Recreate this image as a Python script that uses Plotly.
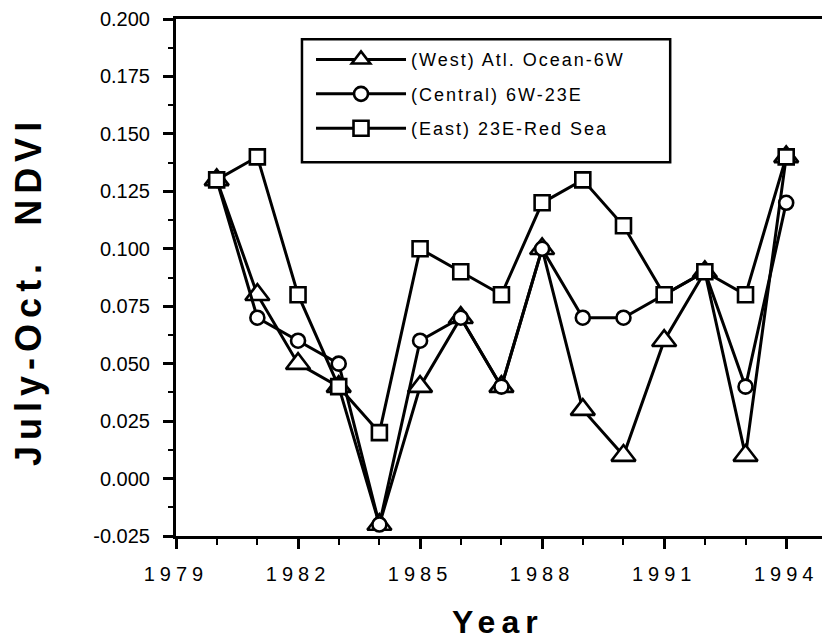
import plotly.graph_objects as go

# July-October NDVI by Sahel sector, 1980-1994
years = list(range(1980, 1995))
west = [0.13, 0.08, 0.05, 0.04, -0.02, 0.04, 0.07, 0.04, 0.10, 0.03, 0.01, 0.06, 0.09, 0.01, 0.14]
central = [0.13, 0.07, 0.06, 0.05, -0.02, 0.06, 0.07, 0.04, 0.10, 0.07, 0.07, 0.08, 0.09, 0.04, 0.12]
east = [0.13, 0.14, 0.08, 0.04, 0.02, 0.10, 0.09, 0.08, 0.12, 0.13, 0.11, 0.08, 0.09, 0.08, 0.14]

series_names = ["(West) Atl. Ocean-6W", "(Central) 6W-23E", "(East) 23E-Red Sea"]

y_tick_vals = [-0.025, 0.0, 0.025, 0.05, 0.075, 0.1, 0.125, 0.15, 0.175, 0.2]
y_tick_text = ["-0.025", "0.000", "0.025", "0.050", "0.075", "0.100", "0.125", "0.150", "0.175", "0.200"]

FONT = "Liberation Sans, Arial, Helvetica, sans-serif"

fig = go.Figure()

styles = [
    dict(symbol="triangle-up", size=21),
    dict(symbol="circle", size=14),
    dict(symbol="square", size=15),
]
for name, vals, st in zip(series_names, [west, central, east], styles):
    fig.add_trace(go.Scatter(
        x=years, y=vals, name=name, legendgroup=name,
        mode="lines+markers",
        line=dict(color="black", width=3),
        marker=dict(symbol=st["symbol"], size=st["size"], color="white",
                    line=dict(color="black", width=2.6)),
        cliponaxis=False,
    ))

fig.update_layout(
    width=822, height=644,
    margin=dict(l=176, r=0, t=19, b=108),
    plot_bgcolor="white", paper_bgcolor="white",
    font=dict(family=FONT, color="black"),
    showlegend=True,
    legend=dict(
        x=0.209, y=0.957, xanchor="left", yanchor="top",
        bgcolor="rgba(0,0,0,0)", borderwidth=0,
        font=dict(size=18, family=FONT, color="black"),
        tracegroupgap=8, itemwidth=90,
    ),
    shapes=[dict(
        type="rect", xref="paper", yref="paper",
        x0=0.195, x1=0.765, y0=0.723, y1=0.961,
        line=dict(color="black", width=2.5), fillcolor="rgba(0,0,0,0)",
        layer="below",
    )],
    annotations=[
        dict(text="Year", xref="paper", yref="paper", x=0.4985, y=-0.166,
             xanchor="center", yanchor="middle", showarrow=False,
             font=dict(size=32, family=FONT, color="black", weight="bold")),
        dict(text="July-Oct.\u00a0\u00a0NDVI", xref="paper", yref="paper",
             x=-0.2276, y=0.474, textangle=-90,
             xanchor="center", yanchor="middle", showarrow=False,
             font=dict(size=36, family=FONT, color="black", weight="bold")),
    ],
)

fig.update_xaxes(
    range=[1979, 1994.88],
    tickmode="linear", tick0=1979, dtick=3, tickformat="d",
    ticks="outside", ticklen=10, tickwidth=2.5, tickcolor="black",
    ticklabelstandoff=8,
    tickfont=dict(size=20, family=FONT, color="black"),
    minor=dict(tickmode="linear", tick0=1979, dtick=1, ticks="outside",
               ticklen=6, tickwidth=2, tickcolor="black", showgrid=False),
    showline=True, linewidth=3, linecolor="black", mirror=True,
    showgrid=False, zeroline=False,
)
fig.update_yaxes(
    range=[-0.025, 0.2],
    tickmode="array", tickvals=y_tick_vals, ticktext=y_tick_text,
    ticks="outside", ticklen=10, tickwidth=2.5, tickcolor="black",
    ticklabelstandoff=9,
    tickfont=dict(size=20, family=FONT, color="black"),
    minor=dict(tickmode="linear", tick0=-0.025, dtick=0.0125, ticks="outside",
               ticklen=5, tickwidth=2, tickcolor="black", showgrid=False),
    showline=True, linewidth=3, linecolor="black",
    showgrid=False, zeroline=False,
)

# widen the character spacing of the tick labels, legend and titles;
# the legend's clip region is dropped so the wider entries stay whole
spacing_js = """
var gd = document.getElementById('{plot_id}');
function spaceText(){
  gd.querySelectorAll('.xtick text').forEach(function(t){t.style.letterSpacing='5px';});
  gd.querySelectorAll('.legendtext').forEach(function(t){t.style.letterSpacing='2px';});
  gd.querySelectorAll('.annotation-text').forEach(function(t){t.style.letterSpacing='6px';});
  gd.querySelectorAll('.legend .scrollbox').forEach(function(g){g.removeAttribute('clip-path');});
}
spaceText();
gd.on('plotly_afterplot', spaceText);
"""

fig.write_html("out.html", post_script=spacing_js)
